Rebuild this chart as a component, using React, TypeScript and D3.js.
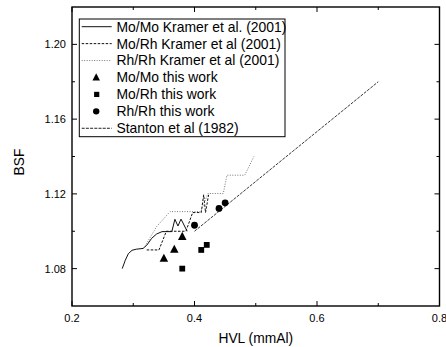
import React from "react";
import * as d3 from "d3";

const W = 446, H = 347;
const M = { left: 72, right: 439.5, top: 7, bottom: 306 };

const xTicksMajor = [0.2, 0.4, 0.6, 0.8];
const xTicksMinor = [0.3, 0.5, 0.7];
const yTicksMajor = [1.08, 1.12, 1.16, 1.2];
const yTicksMinor = [1.1, 1.14, 1.18];

const moMoKramer: [number, number][] = [
  [0.282, 1.08], [0.287, 1.0845], [0.292, 1.088], [0.298, 1.0898], [0.305, 1.0904],
  [0.316, 1.0908], [0.322, 1.0925], [0.33, 1.0962], [0.338, 1.0985], [0.347, 1.0998],
  [0.363, 1.0998], [0.368, 1.1064], [0.373, 1.1028], [0.378, 1.1065], [0.388, 1.1],
];
const moRhKramer: [number, number][] = [
  [0.322, 1.09], [0.342, 1.09], [0.354, 1.1], [0.386, 1.1], [0.397, 1.11],
  [0.411, 1.11], [0.415, 1.1195], [0.418, 1.11], [0.423, 1.1195],
];
const rhRhKramer: [number, number][] = [
  [0.317, 1.0908], [0.338, 1.1024], [0.36, 1.1105], [0.41, 1.1105], [0.422, 1.1202],
  [0.447, 1.1202], [0.453, 1.13], [0.482, 1.13], [0.497, 1.14],
];
const stanton: [number, number][] = [
  [0.4, 1.1], [0.7, 1.18],
];
const moMoThis: [number, number][] = [[0.35, 1.0855], [0.367, 1.0903], [0.38, 1.0972]];
const moRhThis: [number, number][] = [[0.38, 1.08], [0.411, 1.09], [0.42, 1.0927]];
const rhRhThis: [number, number][] = [[0.4, 1.1032], [0.44, 1.1122], [0.45, 1.1152]];

const legendLabels = [
  "Mo/Mo Kramer et al. (2001)",
  "Mo/Rh Kramer et al (2001)",
  "Rh/Rh Kramer et al (2001)",
  "Mo/Mo this work",
  "Mo/Rh this work",
  "Rh/Rh this work",
  "Stanton et al (1982)",
];

const FONT = "Liberation Sans, Arial, sans-serif";

export default function App() {
  const x = d3.scaleLinear().domain([0.2, 0.8]).range([M.left, M.right]);
  const y = d3.scaleLinear().domain([1.06, 1.22]).range([M.bottom, M.top]);
  const line = d3.line<[number, number]>().x((d) => x(d[0])).y((d) => y(d[1]));
  const triPath = (s: number) => `M0,${-s * 0.55}L${s * 0.5},${s * 0.4}L${-s * 0.5},${s * 0.4}Z`;

  const lineStyles = [
    { stroke: "#111", dash: undefined, w: 1 },
    { stroke: "#111", dash: "2.5,1.5", w: 1 },
    { stroke: "#777", dash: "1,1.5", w: 1 },
  ];
  const stantonStyle = { stroke: "#222", dash: "3,1.2", w: 0.9 };

  const lgX0 = 81.7, lgX1 = 111.7, lgTextX = 116.5;
  const rowY = (i: number) => 26.7 + i * 16.93;

  return (
    <div style={{ position: "absolute", left: 0, top: 0 }}>
      <svg width={W} height={H} style={{ display: "block", background: "#fff" }} fontFamily={FONT}>
        <path d={line(moMoKramer)!} fill="none" stroke={lineStyles[0].stroke} strokeWidth={1} />
        <path d={line(moRhKramer)!} fill="none" stroke={lineStyles[1].stroke} strokeWidth={1} strokeDasharray={lineStyles[1].dash} />
        <path d={line(rhRhKramer)!} fill="none" stroke={lineStyles[2].stroke} strokeWidth={1} strokeDasharray={lineStyles[2].dash} />
        <path d={line(stanton)!} fill="none" stroke={stantonStyle.stroke} strokeWidth={stantonStyle.w} strokeDasharray={stantonStyle.dash} />
        {moMoThis.map((d, i) => (
          <path key={"t" + i} d={triPath(8.5)} transform={`translate(${x(d[0])},${y(d[1])})`} fill="#000" />
        ))}
        {moRhThis.map((d, i) => (
          <rect key={"s" + i} x={x(d[0]) - 2.9} y={y(d[1]) - 2.9} width={5.8} height={5.8} fill="#000" />
        ))}
        {rhRhThis.map((d, i) => (
          <circle key={"c" + i} cx={x(d[0])} cy={y(d[1])} r={3.4} fill="#000" />
        ))}
        <rect x={M.left} y={M.top} width={M.right - M.left} height={M.bottom - M.top} fill="none" stroke="#000" strokeWidth={1.4} />
        {xTicksMajor.map((t) => (
          <g key={"xM" + t}>
            <line x1={x(t)} x2={x(t)} y1={M.bottom} y2={M.bottom - 5} stroke="#000" />
            <line x1={x(t)} x2={x(t)} y1={M.top} y2={M.top + 5} stroke="#000" />
            <text x={x(t)} y={322} fontSize={11} textAnchor="middle" fill="#000">{d3.format(".1f")(t)}</text>
          </g>
        ))}
        {xTicksMinor.map((t) => (
          <g key={"xm" + t}>
            <line x1={x(t)} x2={x(t)} y1={M.bottom} y2={M.bottom - 3} stroke="#000" />
            <line x1={x(t)} x2={x(t)} y1={M.top} y2={M.top + 3} stroke="#000" />
          </g>
        ))}
        {yTicksMajor.map((t) => (
          <g key={"yM" + t}>
            <line x1={M.left} x2={M.left + 5} y1={y(t)} y2={y(t)} stroke="#000" />
            <line x1={M.right} x2={M.right - 5} y1={y(t)} y2={y(t)} stroke="#000" />
            <text x={66} y={y(t) + 4} fontSize={11} textAnchor="end" fill="#000">{d3.format(".2f")(t)}</text>
          </g>
        ))}
        {yTicksMinor.map((t) => (
          <g key={"ym" + t}>
            <line x1={M.left} x2={M.left + 3} y1={y(t)} y2={y(t)} stroke="#000" />
            <line x1={M.right} x2={M.right - 3} y1={y(t)} y2={y(t)} stroke="#000" />
          </g>
        ))}
        <text x={(M.left + M.right) / 2} y={343} fontSize={13.8} textAnchor="middle" fill="#000">HVL (mmAl)</text>
        <text transform={`translate(24,162) rotate(-90)`} fontSize={13.8} textAnchor="middle" fill="#000">BSF</text>
        <rect x={79.3} y={19} width={205.7} height={117.7} fill="#fff" stroke="#000" strokeWidth={1} />
        {legendLabels.map((lab, i) => {
          const cy = rowY(i);
          const cx = (lgX0 + lgX1) / 2;
          let sample: React.ReactNode = null;
          if (i < 3) {
            const s = lineStyles[i];
            sample = <line x1={lgX0} x2={lgX1} y1={cy} y2={cy} stroke={s.stroke} strokeWidth={1} strokeDasharray={s.dash} />;
          } else if (i === 3) {
            sample = <path d={triPath(7.5)} transform={`translate(${cx - 0.5},${cy})`} fill="#000" />;
          } else if (i === 4) {
            sample = <rect x={cx - 2.6} y={cy - 2.6} width={5.2} height={5.2} fill="#000" />;
          } else if (i === 5) {
            sample = <circle cx={cx - 0.5} cy={cy} r={3.2} fill="#000" />;
          } else {
            sample = <line x1={lgX0} x2={lgX1} y1={cy} y2={cy} stroke={stantonStyle.stroke} strokeWidth={1} strokeDasharray={stantonStyle.dash} />;
          }
          return (
            <g key={"lg" + i}>
              {sample}
              <text x={lgTextX} y={cy + 4.9} fontSize={13.9} fill="#000">{lab}</text>
            </g>
          );
        })}
      </svg>
    </div>
  );
}
